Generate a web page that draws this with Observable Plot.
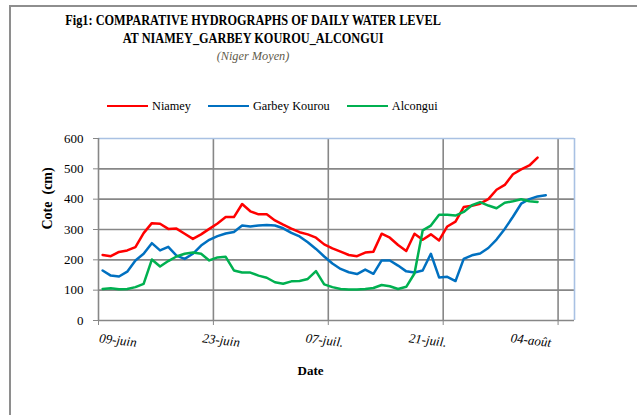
<!DOCTYPE html>
<html><head><meta charset="utf-8">
<script src="https://cdn.jsdelivr.net/npm/d3@7"></script>
<script src="https://cdn.jsdelivr.net/npm/@observablehq/plot@0.6"></script>
<style>
html,body{margin:0;padding:0;background:#fff;overflow:hidden;}
#wrap{position:relative;width:637px;height:415px;overflow:hidden;font-family:"Liberation Serif","Times New Roman",Times,serif;color:#000;}
#frame{position:absolute;left:9px;top:5px;width:700px;height:500px;border:2px solid #8e8e8e;box-sizing:border-box;pointer-events:none;z-index:3;}
#head{position:relative;height:120px;}
.t{position:absolute;left:0;width:506px;text-align:center;font-weight:bold;font-size:15px;line-height:17.7px;white-space:nowrap;}
.t span{display:inline-block;transform:scaleX(0.82);}
.sub{position:absolute;left:0;width:506px;top:48.5px;text-align:center;font-style:italic;font-size:12.3px;line-height:14px;color:#5f5b4c;}
#legend{position:absolute;left:107px;top:98px;height:16px;display:flex;align-items:center;gap:17px;font-size:12.3px;}
.item{display:flex;align-items:center;}
.sw{width:41px;height:2.6px;margin-right:4px;}
#chart svg{display:block;}
</style></head>
<body>
<div id="wrap">
  <div id="head">
    <div class="t" style="top:12px"><span id="t1"></span><br><span id="t2"></span></div>
    <div class="sub" id="sub"></div>
    <div id="legend"></div>
  </div>
  <div id="chart"></div>
  <div id="frame"></div>
</div>
<script>
const titleLines = ["Fig1: COMPARATIVE HYDROGRAPHS OF DAILY WATER LEVEL", "AT NIAMEY_GARBEY KOUROU_ALCONGUI"];
const subtitle = "(Niger Moyen)";
const seriesNames = ["Niamey", "Garbey Kourou", "Alcongui"];
const seriesColors = ["#ff0000", "#0070c0", "#00b050"];
const tickLabels = ["09-juin", "23-juin", "07-juil.", "21-juil.", "04-août"];
const yTicks = [0, 100, 200, 300, 400, 500, 600];
const yTitle = "Cote\u2002(cm)";
const xTitle = "Date";

// daily water levels (cm), first value = 09 June
const niamey = [216,212,226,231,242,288,321,319,302,303,286,269,284,302,320,341,341,384,360,350,350,330,316,303,291,284,273,251,238,227,216,212,224,227,286,273,249,229,286,266,284,264,310,326,374,378,385,400,431,447,482,498,511,537];
const garbey = [165,148,145,161,198,220,255,231,243,214,203,220,247,266,278,287,292,313,310,313,315,313,304,289,277,258,236,211,188,170,159,153,168,154,198,198,181,162,158,165,220,142,144,130,203,215,221,239,267,302,342,385,400,409,413];
const alcongui = [104,106,103,104,110,121,201,178,196,211,220,224,220,198,208,210,165,158,158,148,141,126,121,129,130,137,163,119,110,104,102,102,104,107,117,113,104,111,155,297,313,349,349,346,358,380,390,379,370,388,393,400,393,391];

const DAY = 864e5;
const t0 = Date.UTC(2010, 5, 9);
const xEnd = new Date(t0 + 58 * DAY);
const tickDates = tickLabels.map((_, i) => new Date(t0 + i * 14 * DAY));

const rows = [];
[niamey, garbey, alcongui].forEach((arr, k) => {
  arr.forEach((v, i) => rows.push({s: seriesNames[k], date: new Date(t0 + i * DAY + DAY / 2), v}));
});

document.getElementById("t1").textContent = titleLines[0];
document.getElementById("t2").textContent = titleLines[1];
document.getElementById("sub").textContent = subtitle;
const leg = document.getElementById("legend");
seriesNames.forEach((n, i) => {
  const it = document.createElement("div"); it.className = "item";
  const sw = document.createElement("div"); sw.className = "sw"; sw.style.background = seriesColors[i];
  const tx = document.createElement("span"); tx.textContent = n;
  it.appendChild(sw); it.appendChild(tx); leg.appendChild(it);
});

const grid = "#878787";
const border = "#a9c1e3";
const labelX = d => new Date(t0 + 2.31 * DAY + 0.8986 * (d - t0));

const chart = Plot.plot({
  width: 637, height: 295,
  marginTop: 18, marginBottom: 95, marginLeft: 98, marginRight: 63,
  x: {type: "utc", domain: [new Date(t0), xEnd]},
  y: {domain: [0, 600]},
  color: {domain: seriesNames, range: seriesColors},
  style: {background: "transparent", fontFamily: "Liberation Serif, Times New Roman, serif", fontSize: "13px", color: "#000"},
  marks: [
    Plot.ruleY(yTicks.filter(v => v > 0 && v < 600), {stroke: grid, strokeWidth: 1.6}),
    Plot.ruleX(tickDates.slice(1), {y1: 0, y2: 600, stroke: grid, strokeWidth: 1.6}),
    Plot.ruleY([600], {stroke: border, strokeWidth: 1.6}),
    Plot.ruleX([xEnd], {y1: 0, y2: 600, stroke: border, strokeWidth: 1.6}),
    Plot.ruleX([new Date(t0)], {y1: 0, y2: 600, stroke: grid, strokeWidth: 1.6}),
    Plot.ruleY([0], {stroke: grid, strokeWidth: 1.6}),
    Plot.axisY({ticks: yTicks, tickSize: 5, tickPadding: 10, label: null, stroke: grid, fill: "#000", fontSize: 13}),
    Plot.axisX({ticks: tickDates, tickSize: 5, tickFormat: () => "", label: null, stroke: grid}),
    Plot.lineY(rows, {x: "date", y: "v", z: "s", stroke: "s", strokeWidth: 2.5, strokeLinejoin: "round"}),
    Plot.text(tickDates, {x: labelX, text: (d, i) => tickLabels[i], frameAnchor: "bottom", dy: 24, rotate: 7, fontStyle: "italic", fontSize: 13, fill: "#000"}),
    Plot.text([yTitle], {frameAnchor: "left", dx: -51, rotate: -90, fontWeight: "bold", fontSize: 14, fill: "#000"}),
    Plot.text([xTitle], {frameAnchor: "bottom", dx: -26, dy: 54, fontWeight: "bold", fontSize: 13, fill: "#000"})
  ]
});
document.getElementById("chart").appendChild(chart);
</script>
</body></html>
